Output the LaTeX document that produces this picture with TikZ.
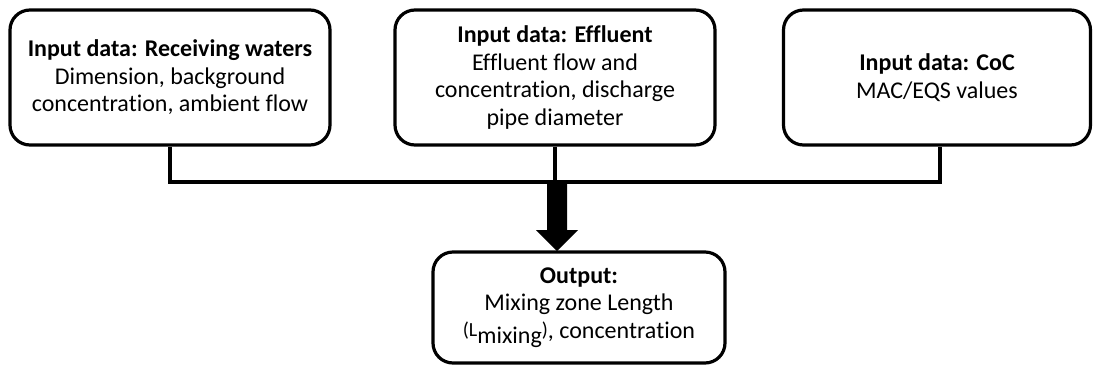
\documentclass[tikz,border=0pt]{standalone}
\usepackage{fontspec}
\setmainfont{Carlito}[Ligatures=NoCommon]
\begin{document}
\begin{tikzpicture}[x=1pt,y=-1pt,
  box/.style={draw=black,line width=3.2pt,rounded corners=20pt,fill=white,
    align=center,inner sep=0pt,font=\fontsize{24}{27.5}\selectfont},
  link/.style={draw=black,line width=3.4pt}]
\useasboundingbox (0,0) rectangle (1093,365);
\node[box,minimum width=320pt,minimum height=135pt] (rw) at (170,77.5)
  {\textbf{Input data: Receiving waters}\\Dimension, background\\concentration, ambient flow};
\node[box,minimum width=320pt,minimum height=135pt] (ef) at (555,77.5)
  {\textbf{Input data: Effluent}\\Effluent flow and\\concentration, discharge\\pipe diameter};
\node[box,minimum width=307pt,minimum height=135pt] (coc) at (937,77.5)
  {\textbf{Input data: CoC}\\MAC/EQS values};
\node[box,minimum width=292pt,minimum height=111pt] (out) at (579,307.5)
  {\textbf{Output:}\\Mixing zone Length\\{\fontsize{20}{22}\selectfont\raisebox{2pt}{(L}}\raisebox{-5pt}{mixing}{\fontsize{20}{22}\selectfont\raisebox{2pt}{)}}, concentration};
\coordinate (j1) at (rw.south |- 0,182);
\coordinate (j3) at (940,182);
\coordinate (jm) at (ef.south |- 0,182);
\draw[link,line join=miter] (rw.south) -- (j1) -- (j3) -- (coc.south -| j3);
\draw[link] (ef.south) -- (jm);
\coordinate (ar) at (557,183);
\fill[black] (ar) ++(-10,0) -- ++(20,0) -- ++(0,47) -- ++(11,0) -- ++(-21,21)
  -- ++(-21,-21) -- ++(11,0) -- cycle;
\end{tikzpicture}
\end{document}
